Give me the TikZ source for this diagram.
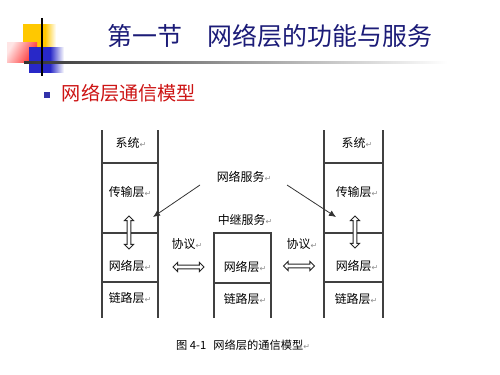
\documentclass[tikz,border=0pt]{standalone}
\usepackage{fontspec}
\newfontfamily\cjk{Noto Sans CJK SC}
\newfontfamily\dvs{DejaVu Sans}
\usetikzlibrary{shapes.arrows,arrows.meta}
\definecolor{titleblue}{RGB}{28,28,120}
\definecolor{subred}{RGB}{205,20,20}
\definecolor{bulletblue}{RGB}{50,50,170}
\definecolor{logoyellow}{RGB}{255,200,0}
\definecolor{logoblue}{RGB}{40,40,200}
\newcommand{\retmark}{{\dvs\fontsize{4.5pt}{5pt}\selectfont\color{black!45}↵}}
\tikzset{
  lbl/.style={font=\cjk\fontsize{6.8pt}{8pt}\selectfont, inner sep=0pt, text=black},
  stackline/.style={draw=black!75, line width=0.7pt},
  hollowarrow/.style={double arrow, draw=black!85, fill=white, line width=0.5pt,
     inner sep=0.028cm, minimum width=0.18cm, double arrow head extend=0.055cm, minimum height=#1},
  svcarrow/.style={draw=black!80, line width=0.45pt, -{Latex[length=4pt,width=3.5pt]}}
}
\begin{document}
\begin{tikzpicture}[x=0.02cm,y=-0.02cm]
\useasboundingbox (0,0) rectangle (500,375);
\fill[white] (0,0) rectangle (500,375);
% logo
\shade[left color=logoyellow, right color=logoyellow] (23,25) rectangle (45,48);
\shade[left color=logoyellow, right color=white] (45,25) rectangle (56,48);
\shade[left color=red!10, right color=red!85, shading angle=60] (7,43) rectangle (37,63);
\shade[left color=logoblue, right color=logoblue] (29,48) rectangle (50,73);
\shade[left color=logoblue, right color=white] (50,48) rectangle (64,73);
\shade[left color=black!80, middle color=black!55, right color=white] (24,62) rectangle (448,64);
\draw[black, line width=1pt] (42,18) -- (42,76);
% title
\node[font=\cjk\fontsize{14.2pt}{16pt}\selectfont, text=titleblue, inner sep=0pt] (title) at (270,36) {第一节　网络层的功能与服务};
\fill[bulletblue] (44,92) rectangle (50,98);
\node[font=\cjk\fontsize{10.9pt}{12pt}\selectfont, text=subred, inner sep=0pt] (sub) at (129,93) {网络层通信模型};
% left stack
\draw[stackline] (102,130) -- (102,318) (158,130) -- (158,318);
\draw[stackline] (102,163) -- (158,163) (102,233) -- (158,233) (102,282) -- (158,282);
% right stack
\draw[stackline] (324,130) -- (324,318) (383,130) -- (383,318);
\draw[stackline] (324,163) -- (383,163) (324,233) -- (383,233) (324,282) -- (383,282);
% middle box
\draw[stackline] (214,318) -- (214,233) -- (271,233) -- (271,318);
\draw[stackline] (214,283) -- (271,283);
% labels
\node[lbl] (lsys) at (131,143) {系统\retmark};
\node[lbl] (ltrans) at (130,192) {传输层\retmark};
\node[lbl] (lnet) at (130,266) {网络层\retmark};
\node[lbl] (llink) at (130,298) {链路层\retmark};
\node[lbl] (rsys) at (357,143) {系统\retmark};
\node[lbl] (rtrans) at (357,192) {传输层\retmark};
\node[lbl] (rnet) at (357,266) {网络层\retmark};
\node[lbl] (rlink) at (356,299) {链路层\retmark};
\node[lbl] (netsvc) at (244,177) {网络服务\retmark};
\node[lbl] (relay) at (245,220) {中继服务\retmark};
\node[lbl] (mnet) at (245,267) {网络层\retmark};
\node[lbl] (mlink) at (245,299) {链路层\retmark};
\node[lbl] (lproto) at (187,244) {协议\retmark};
\node[lbl] (rproto) at (302,244) {协议\retmark};
% hollow arrows
\node[hollowarrow=0.62cm] (lh) at (188.5,267) {};
\node[hollowarrow=0.62cm] (rh) at (299,266) {};
\node[hollowarrow=0.66cm, shape border rotate=90] (lv) at (129,232.5) {};
\node[hollowarrow=0.64cm, shape border rotate=90] (rv) at (355,232) {};
% service arrows
\coordinate (la) at (200,185);
\coordinate (lb) at (153,217);
\coordinate (ra) at (287,185);
\coordinate (rb) at (336,217);
\draw[svcarrow] (la) -- (lb);
\draw[svcarrow] (ra) -- (rb);
% caption
\node[font=\cjk\fontsize{6.4pt}{8pt}\selectfont, inner sep=0pt, text=black] (cap) at (243,345) {图 4-1\hspace{4pt}网络层的通信模型\retmark};
\end{tikzpicture}
\end{document}
